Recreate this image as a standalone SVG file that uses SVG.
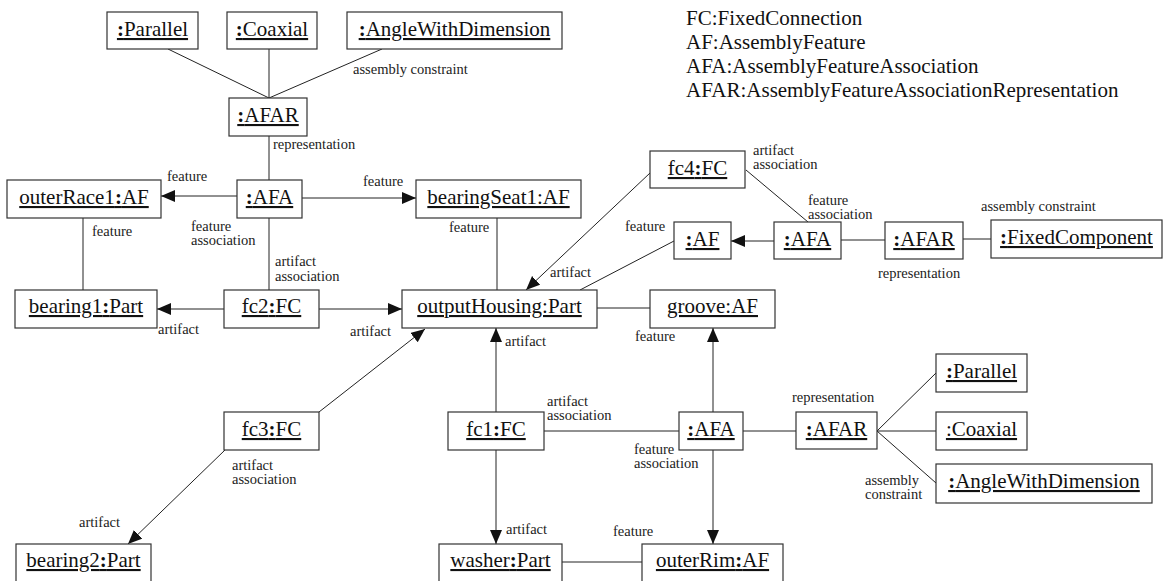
<svg xmlns="http://www.w3.org/2000/svg" width="1164" height="581" viewBox="0 0 1164 581">
<defs>
<marker id="ah" markerUnits="userSpaceOnUse" markerWidth="15" markerHeight="13" refX="14" refY="6" orient="auto">
<path d="M0,0 L14,6 L0,12 z" fill="#111"/>
</marker>
<style>
.box{fill:#fff;stroke:#333;stroke-width:1.2}
.nt{font-family:"Liberation Serif","Times New Roman",serif;font-size:21px;fill:#111;text-anchor:middle;text-decoration:underline}
.b{font-weight:bold}
.lb{font-family:"Liberation Serif","Times New Roman",serif;font-size:14.5px;fill:#222}
.lg{font-family:"Liberation Serif","Times New Roman",serif;font-size:21px;fill:#111}
.ln{stroke:#222;stroke-width:1;fill:none}
.ar{stroke:#222;stroke-width:1;fill:none;marker-end:url(#ah)}
</style>
</defs>
<rect width="1164" height="581" fill="#fff"/>
<g id="connectors">
<line class="ln" x1="168" y1="49" x2="269" y2="98"/>
<line class="ln" x1="269" y1="49" x2="269" y2="98"/>
<line class="ln" x1="382" y1="49" x2="269" y2="98"/>
<line class="ln" x1="269" y1="136" x2="269" y2="180"/>
<line class="ar" x1="237" y1="196" x2="161" y2="196"/>
<line class="ar" x1="302" y1="198" x2="416" y2="198"/>
<line class="ln" x1="83" y1="218" x2="83" y2="290"/>
<line class="ln" x1="269" y1="218" x2="269" y2="290"/>
<line class="ar" x1="224" y1="309" x2="157" y2="309"/>
<line class="ar" x1="319" y1="309" x2="402" y2="309"/>
<line class="ln" x1="497" y1="218" x2="497" y2="290"/>
<line class="ln" x1="597" y1="308" x2="650" y2="308"/>
<line class="ar" x1="650" y1="173" x2="526" y2="290"/>
<line class="ln" x1="674" y1="241" x2="580" y2="290"/>
<line class="ar" x1="774" y1="241" x2="731" y2="241"/>
<line class="ln" x1="746" y1="170" x2="808" y2="222"/>
<line class="ln" x1="841" y1="240" x2="885" y2="240"/>
<line class="ln" x1="963" y1="239" x2="991" y2="239"/>
<line class="ar" x1="319" y1="412" x2="425" y2="329"/>
<line class="ar" x1="225" y1="450" x2="128" y2="544"/>
<line class="ar" x1="496" y1="412" x2="496" y2="328"/>
<line class="ar" x1="496" y1="450" x2="496" y2="544"/>
<line class="ln" x1="544" y1="431" x2="679" y2="431"/>
<line class="ar" x1="713" y1="412" x2="713" y2="328"/>
<line class="ar" x1="713" y1="450" x2="713" y2="544"/>
<line class="ln" x1="743" y1="431" x2="796" y2="431"/>
<line class="ln" x1="877" y1="431" x2="936" y2="373"/>
<line class="ln" x1="877" y1="431" x2="936" y2="431"/>
<line class="ln" x1="877" y1="431" x2="936" y2="483"/>
<line class="ln" x1="562" y1="562" x2="642" y2="562"/>
</g>
<g id="labels">
<text class="lb" x="353" y="74">assembly constraint</text>
<text class="lb" x="273" y="149">representation</text>
<text class="lb" x="167" y="181">feature</text>
<text class="lb" x="363" y="186">feature</text>
<text class="lb" x="92" y="236">feature</text>
<text class="lb" x="191" y="231">feature</text>
<text class="lb" x="191" y="245">association</text>
<text class="lb" x="275" y="266">artifact</text>
<text class="lb" x="275" y="281">association</text>
<text class="lb" x="158" y="334">artifact</text>
<text class="lb" x="350" y="336">artifact</text>
<text class="lb" x="449" y="232">feature</text>
<text class="lb" x="625" y="231">feature</text>
<text class="lb" x="550" y="277">artifact</text>
<text class="lb" x="753" y="155">artifact</text>
<text class="lb" x="753" y="169">association</text>
<text class="lb" x="808" y="205">feature</text>
<text class="lb" x="808" y="219">association</text>
<text class="lb" x="981" y="211">assembly constraint</text>
<text class="lb" x="878" y="278">representation</text>
<text class="lb" x="635" y="341">feature</text>
<text class="lb" x="505" y="346">artifact</text>
<text class="lb" x="547" y="406">artifact</text>
<text class="lb" x="547" y="420">association</text>
<text class="lb" x="634" y="454">feature</text>
<text class="lb" x="634" y="468">association</text>
<text class="lb" x="792" y="402">representation</text>
<text class="lb" x="865" y="485">assembly</text>
<text class="lb" x="865" y="499">constraint</text>
<text class="lb" x="232" y="470">artifact</text>
<text class="lb" x="232" y="484">association</text>
<text class="lb" x="79" y="527">artifact</text>
<text class="lb" x="506" y="534">artifact</text>
<text class="lb" x="613" y="536">feature</text>
</g>
<g id="legend">
<text class="lg" x="686" y="25">FC:FixedConnection</text>
<text class="lg" x="686" y="49">AF:AssemblyFeature</text>
<text class="lg" x="686" y="73">AFA:AssemblyFeatureAssociation</text>
<text class="lg" x="686" y="97">AFAR:AssemblyFeatureAssociationRepresentation</text>
</g>
<g id="parallel1"><rect class="box" x="107" y="12" width="91" height="37"/><text class="nt" x="152.5" y="36"><tspan class="b">:</tspan>Parallel</text></g>
<g id="coaxial1"><rect class="box" x="227" y="12" width="90" height="37"/><text class="nt" x="272" y="36"><tspan class="b">:</tspan>Coaxial</text></g>
<g id="angle1"><rect class="box" x="347" y="12" width="215" height="37"/><text class="nt" x="454.5" y="36"><tspan class="b">:</tspan>AngleWithDimension</text></g>
<g id="afar1"><rect class="box" x="229" y="98" width="78" height="38"/><text class="nt" x="268" y="122"><tspan class="b">:</tspan>AFAR</text></g>
<g id="afa1"><rect class="box" x="237" y="180" width="65" height="38"/><text class="nt" x="269.5" y="204"><tspan class="b">:</tspan>AFA</text></g>
<g id="outerRace1"><rect class="box" x="7" y="180" width="154" height="38"/><text class="nt" x="84" y="204">outerRace1<tspan class="b">:</tspan>AF</text></g>
<g id="bearingSeat1"><rect class="box" x="416" y="180" width="165" height="38"/><text class="nt" x="498.5" y="204">bearingSeat1:AF</text></g>
<g id="bearing1"><rect class="box" x="15" y="290" width="142" height="38"/><text class="nt" x="86" y="313">bearing1<tspan class="b">:</tspan>Part</text></g>
<g id="fc2"><rect class="box" x="224" y="290" width="95" height="38"/><text class="nt" x="271.5" y="313">fc2<tspan class="b">:</tspan>FC</text></g>
<g id="outputHousing"><rect class="box" x="402" y="290" width="195" height="38"/><text class="nt" x="499.5" y="313">outputHousing:Part</text></g>
<g id="groove"><rect class="box" x="650" y="290" width="125" height="38"/><text class="nt" x="712.5" y="313">groove:AF</text></g>
<g id="fc4"><rect class="box" x="650" y="151" width="95" height="37"/><text class="nt" x="697.5" y="175">fc4<tspan class="b">:</tspan>FC</text></g>
<g id="af2"><rect class="box" x="674" y="222" width="57" height="37"/><text class="nt" x="702.5" y="246"><tspan class="b">:</tspan>AF</text></g>
<g id="afa2"><rect class="box" x="774" y="222" width="67" height="37"/><text class="nt" x="807.5" y="246"><tspan class="b">:</tspan>AFA</text></g>
<g id="afar2"><rect class="box" x="885" y="222" width="78" height="37"/><text class="nt" x="924" y="246"><tspan class="b">:</tspan>AFAR</text></g>
<g id="fixedComponent"><rect class="box" x="991" y="220" width="171" height="38"/><text class="nt" x="1076.5" y="244"><tspan class="b">:</tspan>FixedComponent</text></g>
<g id="fc3"><rect class="box" x="224" y="412" width="95" height="38"/><text class="nt" x="271.5" y="436">fc3<tspan class="b">:</tspan>FC</text></g>
<g id="fc1"><rect class="box" x="448" y="412" width="96" height="38"/><text class="nt" x="496" y="436">fc1<tspan class="b">:</tspan>FC</text></g>
<g id="afa3"><rect class="box" x="679" y="412" width="64" height="38"/><text class="nt" x="711" y="436"><tspan class="b">:</tspan>AFA</text></g>
<g id="afar3"><rect class="box" x="796" y="412" width="81" height="37"/><text class="nt" x="836.5" y="436"><tspan class="b">:</tspan>AFAR</text></g>
<g id="parallel3"><rect class="box" x="936" y="354" width="91" height="38"/><text class="nt" x="981.5" y="378"><tspan class="b">:</tspan>Parallel</text></g>
<g id="coaxial3"><rect class="box" x="936" y="412" width="91" height="38"/><text class="nt" x="981.5" y="436">:Coaxial</text></g>
<g id="angle3"><rect class="box" x="936" y="464" width="216" height="39"/><text class="nt" x="1044" y="488"><tspan class="b">:</tspan>AngleWithDimension</text></g>
<g id="bearing2"><rect class="box" x="16" y="544" width="135" height="40"/><text class="nt" x="83.5" y="567">bearing2<tspan class="b">:</tspan>Part</text></g>
<g id="washer"><rect class="box" x="439" y="544" width="123" height="40"/><text class="nt" x="500.5" y="567">washer<tspan class="b">:</tspan>Part</text></g>
<g id="outerRim"><rect class="box" x="642" y="544" width="141" height="40"/><text class="nt" x="712.5" y="567">outerRim<tspan class="b">:</tspan>AF</text></g>
</svg>
